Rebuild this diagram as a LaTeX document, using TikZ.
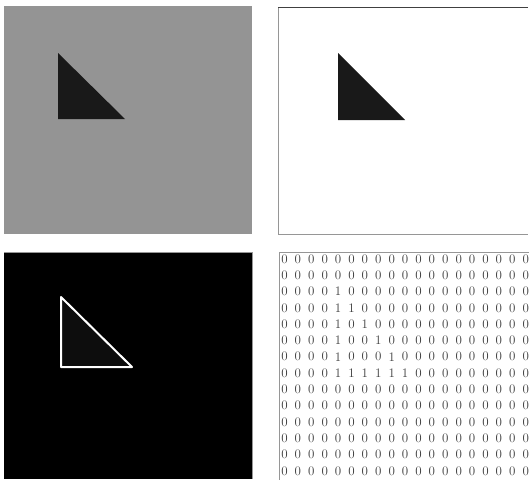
\documentclass[tikz,border=0pt]{standalone}
\usepackage{tikz}
\definecolor{noisegray}{RGB}{148,148,148}
\definecolor{framegray}{RGB}{150,150,150}
\definecolor{digitgray}{RGB}{60,60,60}

\tikzset{
  digit/.style={text=digitgray, inner sep=0pt, font=\fontsize{13}{15}\selectfont},
  frame/.style={draw=framegray, line width=1pt}
}

\begin{document}
\begin{tikzpicture}[x=1pt,y=-1pt]
      \useasboundingbox (0,0) rectangle (529,479);

      % Noisy input image
      \fill[noisegray] (4,6) rectangle (252,234);
      \fill[black!90] (58,53) -- (58,119) -- (125,119) -- cycle;

      % Denoised image
      \fill[white] (278,7) rectangle (528,234);
      \draw[frame] (528,7) -- (278,7) -- (278,234) -- (528,234);
      \draw[black!75, line width=1pt] (278,7) -- (528,7);
      \fill[black!90] (338,53) -- (338,120) -- (405,120) -- cycle;

      % Edge image
      \fill[black] (4,252) rectangle (252,479);
      \draw[frame] (4,252) -- (252,252) -- (252,479);
      \fill[black!95] (61,297) -- (61,367) -- (132,367) -- cycle;
      \draw[white, line width=2pt, line join=round] (61,297) -- (61,367) -- (132,367) -- cycle;

      % Binary matrix
      \draw[frame] (279,482) -- (279,252) -- (532,252);
      \foreach \row [count=\r from 0] in {
        {0,0,0,0,0,0,0,0,0,0,0,0,0,0,0,0,0,0,0},
        {0,0,0,0,0,0,0,0,0,0,0,0,0,0,0,0,0,0,0},
        {0,0,0,0,1,0,0,0,0,0,0,0,0,0,0,0,0,0,0},
        {0,0,0,0,1,1,0,0,0,0,0,0,0,0,0,0,0,0,0},
        {0,0,0,0,1,0,1,0,0,0,0,0,0,0,0,0,0,0,0},
        {0,0,0,0,1,0,0,1,0,0,0,0,0,0,0,0,0,0,0},
        {0,0,0,0,1,0,0,0,1,0,0,0,0,0,0,0,0,0,0},
        {0,0,0,0,1,1,1,1,1,1,0,0,0,0,0,0,0,0,0},
        {0,0,0,0,0,0,0,0,0,0,0,0,0,0,0,0,0,0,0},
        {0,0,0,0,0,0,0,0,0,0,0,0,0,0,0,0,0,0,0},
        {0,0,0,0,0,0,0,0,0,0,0,0,0,0,0,0,0,0,0},
        {0,0,0,0,0,0,0,0,0,0,0,0,0,0,0,0,0,0,0},
        {0,0,0,0,0,0,0,0,0,0,0,0,0,0,0,0,0,0,0},
        {0,0,0,0,0,0,0,0,0,0,0,0,0,0,0,0,0,0,0}} {
        \foreach \v [count=\c from 0] in \row {
          \node[digit] (d-\r-\c) at (284.5+13.4*\c, 259+16.3*\r) {\v};
        }
      }
    \end{tikzpicture}
\end{document}
